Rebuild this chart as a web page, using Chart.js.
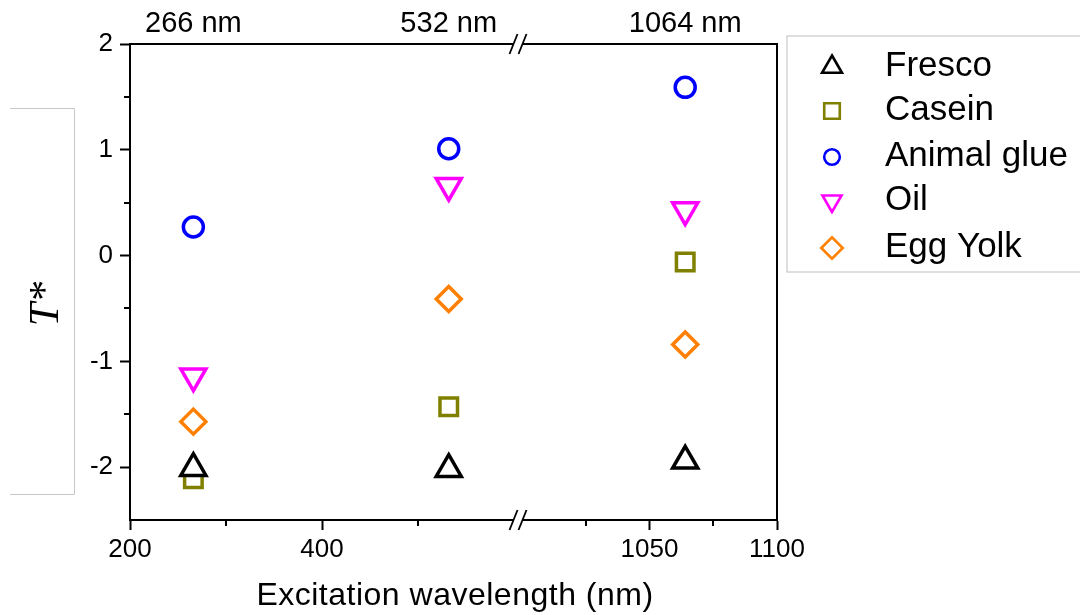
<!DOCTYPE html>
<html>
<head>
<meta charset="utf-8">
<script src="https://cdn.jsdelivr.net/npm/chart.js@4.4.1/dist/chart.umd.min.js"></script>
<style>
  html, body { margin: 0; padding: 0; background: #fff; }
  #wrap { width: 1080px; height: 615px; }
</style>
</head>
<body>
<div id="wrap"><canvas id="chart" width="1080" height="615"></canvas></div>
<script>
const wavelengths = [266, 532, 1064];
const fresco = [-2.01, -2.02, -1.94];
const casein = [-2.11, -1.43, -0.06];
const animalGlue = [0.27, 1.01, 1.59];
const oil = [-1.14, 0.66, 0.43];
const eggYolk = [-1.57, -0.41, -0.84];

const xMajorTicks = [200, 400, 1050, 1100];
const xMinorTicks = [300, 500, 1025, 1075];
const yMajorTicks = [-2, -1, 0, 1, 2];
const yMinorTicks = [-1.5, -0.5, 0.5, 1.5];

// broken x axis: 200-600 and 1000-1100 put on one linear scale
const AXIS_START = 200, LEFT_END = 600, RIGHT_START = 1000, AXIS_END = 1100;
const GAP = 8.33, RIGHT_STRETCH = 2.656;
function toAxis(nm) {
  if (nm <= LEFT_END) return nm - AXIS_START;
  return (LEFT_END - AXIS_START) + GAP + (nm - RIGHT_START) * RIGHT_STRETCH;
}

const series = [
  { label: 'Fresco', values: fresco, color: '#000000', style: 'triangle', rotation: 0, radius: 14.5, legendRadius: 11.5, legendY: 67 },
  { label: 'Casein', values: casein, color: '#808000', style: 'rect', rotation: 0, radius: 12.4, legendRadius: 11, legendY: 111 },
  { label: 'Animal glue', values: animalGlue, color: '#0000FF', style: 'circle', rotation: 0, radius: 10, legendRadius: 7.8, legendY: 157 },
  { label: 'Oil', values: oil, color: '#FF00FF', style: 'triangle', rotation: 180, radius: 14.5, legendRadius: 11, legendY: 201 },
  { label: 'Egg Yolk', values: eggYolk, color: '#FF8000', style: 'rectRot', rotation: 0, radius: 12.5, legendRadius: 10.7, legendY: 248 }
];

const datasets = series.map(s => ({
  label: s.label,
  data: wavelengths.map((w, i) => ({ x: toAxis(w), y: s.values[i] })),
  pointStyle: s.style,
  rotation: s.rotation,
  pointRadius: s.radius,
  pointHoverRadius: s.radius,
  pointBorderWidth: 3.5,
  pointHoverBorderWidth: 3.5,
  pointBorderColor: s.color,
  pointBackgroundColor: '#ffffff',
  showLine: false,
  clip: false
}));

const decor = {
  id: 'decor',
  afterDraw(chart) {
    const ctx = chart.ctx;
    const area = chart.chartArea;
    const xs = chart.scales.x, ys = chart.scales.y;
    ctx.save();

    // top and right spines
    ctx.strokeStyle = '#000';
    ctx.lineWidth = 2;
    ctx.beginPath();
    ctx.moveTo(area.left, area.top);
    ctx.lineTo(area.right, area.top);
    ctx.lineTo(area.right, area.bottom);
    ctx.stroke();

    // minor ticks
    xMinorTicks.forEach(v => {
      const px = Math.round(xs.getPixelForValue(toAxis(v)));
      ctx.beginPath();
      ctx.moveTo(px, area.bottom);
      ctx.lineTo(px, area.bottom + 6);
      ctx.stroke();
    });
    yMinorTicks.forEach(v => {
      const py = Math.round(ys.getPixelForValue(v));
      ctx.beginPath();
      ctx.moveTo(area.left - 6, py);
      ctx.lineTo(area.left, py);
      ctx.stroke();
    });

    // break marks on top and bottom axis
    const bx = xs.getPixelForValue(toAxis(LEFT_END) + GAP / 2);
    [area.top, area.bottom].forEach(y => {
      ctx.fillStyle = '#fff';
      ctx.fillRect(bx - 4.5, y - 2, 9, 4);
      ctx.strokeStyle = '#000';
      ctx.lineWidth = 1.8;
      [-4.5, 4.5].forEach(d => {
        ctx.beginPath();
        ctx.moveTo(bx + d - 4, y + 10);
        ctx.lineTo(bx + d + 4, y - 10);
        ctx.stroke();
      });
    });

    // grey bracket on the left
    ctx.strokeStyle = '#c8c8c8';
    ctx.lineWidth = 1;
    ctx.beginPath();
    ctx.moveTo(10, 108.5);
    ctx.lineTo(74.5, 108.5);
    ctx.lineTo(74.5, 494.5);
    ctx.lineTo(10, 494.5);
    ctx.stroke();

    // axis titles
    ctx.fillStyle = '#000';
    ctx.textAlign = 'center';
    ctx.textBaseline = 'alphabetic';
    ctx.font = '32px "Liberation Sans", Arial, sans-serif';
    if ('letterSpacing' in ctx) ctx.letterSpacing = '0.5px';
    ctx.fillText('Excitation wavelength (nm)', 455, 605);
    if ('letterSpacing' in ctx) ctx.letterSpacing = '0px';

    ctx.save();
    ctx.translate(58, 304);
    ctx.rotate(-Math.PI / 2);
    ctx.font = 'italic 42px "Liberation Serif", "Times New Roman", serif';
    ctx.fillText('T*', 0, 0);
    ctx.restore();

    // legend box
    ctx.strokeStyle = '#c8c8c8';
    ctx.lineWidth = 1.2;
    ctx.strokeRect(787, 36, 310, 236);
    series.forEach(s => {
      ctx.strokeStyle = s.color;
      ctx.fillStyle = '#fff';
      ctx.lineWidth = 2.6;
      Chart.helpers.drawPoint(ctx, {
        pointStyle: s.style,
        rotation: s.rotation,
        radius: s.legendRadius,
        borderWidth: 2.6
      }, 832, s.legendY);
      ctx.fillStyle = '#000';
      ctx.textAlign = 'left';
      ctx.textBaseline = 'middle';
      ctx.font = '35px "Liberation Sans", Arial, sans-serif';
      ctx.fillText(s.label, 885, s.legendY - 1);
    });

    ctx.restore();
  }
};

new Chart(document.getElementById('chart'), {
  type: 'scatter',
  data: { datasets },
  options: {
    responsive: false,
    animation: false,
    events: [],
    layout: { padding: { left: 0, right: 303, top: 0, bottom: 0 } },
    plugins: {
      legend: { display: false },
      tooltip: { enabled: false }
    },
    scales: {
      x: {
        type: 'linear',
        position: 'bottom',
        min: 0,
        max: toAxis(AXIS_END),
        afterBuildTicks: scale => { scale.ticks = xMajorTicks.map(v => ({ value: toAxis(v) })); },
        afterFit: scale => { scale.height = 95; },
        ticks: {
          autoSkip: false,
          maxRotation: 0,
          padding: 4,
          color: '#000',
          font: { family: '"Liberation Sans", Arial, sans-serif', size: 26 },
          callback: (value, index) => xMajorTicks[index]
        },
        grid: { drawOnChartArea: false, drawTicks: true, tickLength: 10, tickWidth: 2, tickColor: '#000' },
        border: { display: true, color: '#000', width: 2 }
      },
      x2: {
        type: 'linear',
        position: 'top',
        min: 0,
        max: toAxis(AXIS_END),
        afterBuildTicks: scale => { scale.ticks = wavelengths.map(v => ({ value: toAxis(v) })); },
        afterFit: scale => { scale.height = 44; },
        ticks: {
          autoSkip: false,
          maxRotation: 0,
          padding: -5,
          color: '#000',
          font: { family: '"Liberation Sans", Arial, sans-serif', size: 29 },
          callback: (value, index) => wavelengths[index] + ' nm'
        },
        grid: { display: false },
        border: { display: false }
      },
      y: {
        type: 'linear',
        min: -2.5,
        max: 2,
        afterBuildTicks: scale => { scale.ticks = yMajorTicks.map(v => ({ value: v })); },
        afterFit: scale => { scale.width = 130; },
        ticks: {
          padding: 7,
          color: '#000',
          font: { family: '"Liberation Sans", Arial, sans-serif', size: 26 },
          callback: value => String(value)
        },
        grid: { drawOnChartArea: false, drawTicks: true, tickLength: 10, tickWidth: 2, tickColor: '#000' },
        border: { display: true, color: '#000', width: 2 }
      }
    }
  },
  plugins: [decor]
});
</script>
</body>
</html>
